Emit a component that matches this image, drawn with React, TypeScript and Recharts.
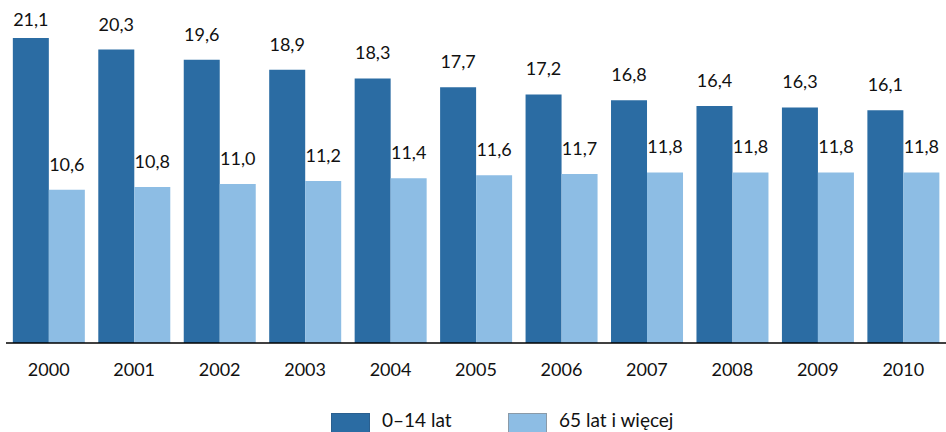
import { BarChart, Bar, XAxis, YAxis, Legend, LabelList } from 'recharts';

const years = ['2000', '2001', '2002', '2003', '2004', '2005', '2006', '2007', '2008', '2009', '2010'];
const youngShare = [21.1, 20.3, 19.6, 18.9, 18.3, 17.7, 17.2, 16.8, 16.4, 16.3, 16.1];
const oldShare = [10.6, 10.8, 11.0, 11.2, 11.4, 11.6, 11.7, 11.8, 11.8, 11.8, 11.8];
const seriesNames = ['0–14 lat', '65 lat i więcej'];

const DARK = '#2B6CA3';
const LIGHT = '#8DBDE4';
const FONT = 'Lato, "Open Sans", sans-serif';

const data = years.map((rok, i) => ({
  rok,
  mlodzi: youngShare[i],
  starsi: oldShare[i],
}));

const fmt = (v: number) => v.toFixed(1).replace('.', ',');

// etykieta nad słupkiem, nie wychodzi ponad obszar wykresu
function TopLabel(props: any) {
  const { x, y, width, value } = props;
  const baseline = Math.max(y - 19, 26);
  return (
    <text
      x={x + width / 2}
      y={baseline}
      textAnchor="middle"
      fontFamily={FONT}
      fontSize={18}
      fill="#111"
    >
      {fmt(value)}
    </text>
  );
}

function LegendBox() {
  const items = [
    { name: seriesNames[0], color: DARK, left: 325, border: '#2a5f8f' },
    { name: seriesNames[1], color: LIGHT, left: 502, border: '#8a9aa8' },
  ];
  return (
    <div style={{ position: 'relative', width: 946, height: 30 }}>
      {items.map((it) => (
        <div key={it.name}>
          <div
            style={{
              position: 'absolute',
              left: it.left,
              top: 11,
              width: 37,
              height: 24,
              background: it.color,
              border: `1px solid ${it.border}`,
            }}
          />
          <div
            style={{
              position: 'absolute',
              left: it.left + 51,
              top: 8,
              lineHeight: '19px',
              fontSize: 19,
              fontFamily: FONT,
              color: '#111',
              whiteSpace: 'nowrap',
            }}
          >
            {it.name}
          </div>
        </div>
      ))}
    </div>
  );
}

export default function App() {
  return (
    <div style={{ position: 'absolute', left: 0, top: 0, width: 946, height: 432, overflow: 'hidden', background: '#fff' }}>
      <BarChart
        width={946}
        height={432}
        data={data}
        margin={{ top: 25, right: 0, bottom: 0, left: 6 }}
        barCategoryGap="8%"
        barGap={0}
      >
        <XAxis
          dataKey="rok"
          height={59}
          tickLine={false}
          tickMargin={14}
          axisLine={{ stroke: '#000', strokeWidth: 1.5 }}
          tick={{ fill: '#111', fontSize: 18, fontFamily: FONT }}
          interval={0}
        />
        <YAxis hide domain={[0, 22]} />
        <Legend verticalAlign="bottom" height={30} content={() => <LegendBox />} />
        <Bar dataKey="mlodzi" name={seriesNames[0]} fill={DARK} isAnimationActive={false}>
          <LabelList dataKey="mlodzi" content={<TopLabel />} />
        </Bar>
        <Bar dataKey="starsi" name={seriesNames[1]} fill={LIGHT} isAnimationActive={false}>
          <LabelList dataKey="starsi" content={<TopLabel />} />
        </Bar>
      </BarChart>
    </div>
  );
}
